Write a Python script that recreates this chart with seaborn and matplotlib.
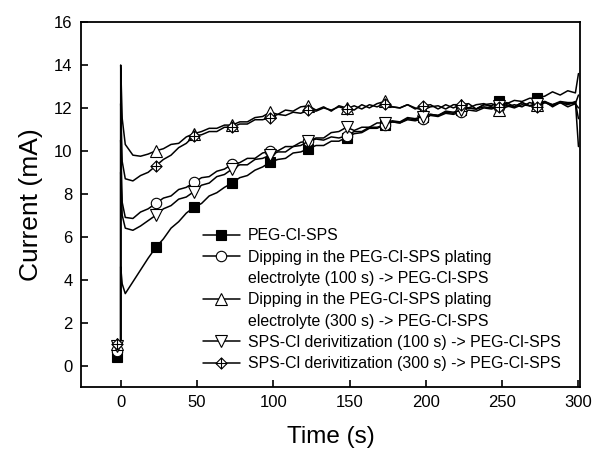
import matplotlib
matplotlib.use("Agg")
import matplotlib.pyplot as plt
import seaborn as sns
from matplotlib.path import Path
from matplotlib.lines import Line2D

# czas (s): punkt startowy, skok przy t=0, potem co 5 s, koncowy skok przy t=300
time_s = [-2.5, 0, 0, 1,
          3, 8, 13, 18, 23, 28, 33, 38, 43, 48, 53, 58, 63, 68, 73, 78, 83, 88, 93, 98,
          103, 108, 113, 118, 123, 128, 133, 138, 143, 148, 153, 158, 163, 168, 173, 178,
          183, 188, 193, 198, 203, 208, 213, 218, 223, 228, 233, 238, 243, 248, 253, 258,
          263, 268, 273, 278, 283, 288, 293, 298, 300]

peg_cl_sps = [0.4, 0.4, 4.6, 3.8,
              3.35, 3.9, 4.45, 5.0, 5.5, 5.9, 6.4, 6.7, 7.1, 7.37, 7.55, 7.9, 8.05, 8.3, 8.5, 8.75,
              8.85, 9.1, 9.25, 9.47, 9.6, 9.65, 9.9, 9.95, 10.1, 10.25, 10.25, 10.45, 10.45, 10.62,
              10.8, 10.85, 11.05, 11.05, 11.2, 11.35, 11.3, 11.5, 11.45, 11.6, 11.7, 11.65, 11.8,
              11.75, 11.9, 12.0, 11.95, 12.15, 12.1, 12.3, 12.2, 12.35, 12.3, 12.45, 12.45, 12.55,
              12.75, 12.6, 12.8, 12.7, 13.6]

dip_100 = [0.7, 0.7, 10.5, 7.6,
           6.9, 6.85, 7.15, 7.3, 7.55, 7.8, 7.9, 8.2, 8.3, 8.53, 8.75, 8.8, 9.05, 9.15, 9.38, 9.45,
           9.65, 9.65, 9.9, 9.98, 10.0, 10.2, 10.2, 10.4, 10.45, 10.55, 10.5, 10.65, 10.6, 10.7,
           10.9, 10.9, 11.1, 11.1, 11.2, 11.35, 11.3, 11.45, 11.4, 11.5, 11.65, 11.6, 11.75, 11.7,
           11.8, 11.9, 11.85, 12.0, 11.95, 12.05, 12.1, 12.0, 12.15, 12.1, 12.15, 12.25, 12.15,
           12.25, 12.2, 12.2, 12.0]

dip_300 = [1.0, 1.0, 14.0, 11.5,
           10.3, 9.8, 9.75, 9.85, 10.0, 10.1, 10.3, 10.35, 10.65, 10.8, 10.9, 11.05, 11.05, 11.2,
           11.2, 11.35, 11.35, 11.55, 11.6, 11.8, 11.7, 11.9, 11.85, 12.05, 12.1, 11.9, 12.05,
           11.85, 12.1, 12.0, 11.9, 12.15, 12.0, 12.2, 12.3, 12.05, 12.0, 12.15, 12.0, 11.9,
           12.05, 12.1, 11.95, 12.15, 12.15, 12.0, 12.15, 12.2, 12.05, 11.9, 12.05, 12.15,
           12.05, 12.25, 12.15, 12.3, 12.05, 12.25, 12.15, 12.3, 10.2]

sps_100 = [0.9, 0.9, 9.0, 7.0,
           6.4, 6.3, 6.5, 6.75, 7.0, 7.3, 7.45, 7.75, 7.85, 8.1, 8.4, 8.5, 8.8, 8.9, 9.15, 9.35,
           9.35, 9.6, 9.65, 9.8, 9.95, 9.95, 10.2, 10.25, 10.45, 10.6, 10.6, 10.85, 10.9, 11.1,
           10.95, 11.1, 11.1, 11.3, 11.3, 11.4, 11.35, 11.55, 11.5, 11.6, 11.7, 11.65, 11.85,
           11.8, 11.9, 12.0, 11.95, 12.05, 12.0, 12.1, 12.15, 12.05, 12.25, 12.1, 12.2, 12.3,
           12.15, 12.3, 12.25, 12.25, 11.5]

sps_300 = [1.0, 1.0, 12.2, 9.5,
           8.7, 8.6, 8.85, 9.0, 9.3, 9.6, 9.8, 10.15, 10.35, 10.7, 10.75, 10.9, 10.9, 11.1, 11.1,
           11.25, 11.25, 11.45, 11.45, 11.55, 11.7, 11.65, 11.8, 11.75, 11.9, 11.85, 12.0, 11.9,
           12.05, 11.95, 12.1, 11.95, 12.15, 12.05, 12.2, 12.05, 12.0, 12.15, 11.95, 12.1, 12.15,
           11.95, 12.15, 12.0, 12.15, 12.2, 11.95, 12.15, 12.2, 12.05, 12.25, 12.05, 12.25, 12.1,
           12.05, 12.25, 12.1, 12.25, 12.05, 12.2, 12.6]

series_labels = ['PEG-Cl-SPS',
                 'Dipping in the PEG-Cl-SPS plating',
                 'Dipping in the PEG-Cl-SPS plating',
                 'SPS-Cl derivitization (100 s) -> PEG-Cl-SPS',
                 'SPS-Cl derivitization (300 s) -> PEG-Cl-SPS']
second_lines = {1: 'electrolyte (100 s) -> PEG-Cl-SPS',
                2: 'electrolyte (300 s) -> PEG-Cl-SPS'}

x_ticks = [0, 50, 100, 150, 200, 250, 300]
y_ticks = [0, 2, 4, 6, 8, 10, 12, 14, 16]

# romb z krzyzykiem w srodku
diamond_plus = Path(
    [(0, 1), (1, 0), (0, -1), (-1, 0), (0, 1), (0, 1), (0, -1), (-1, 0), (1, 0)],
    [Path.MOVETO, Path.LINETO, Path.LINETO, Path.LINETO, Path.CLOSEPOLY,
     Path.MOVETO, Path.LINETO, Path.MOVETO, Path.LINETO])

styles = [
    dict(marker='s', mfc='black', ms=6.5),
    dict(marker='o', mfc='white', ms=7.5),
    dict(marker='^', mfc='white', ms=8),
    dict(marker='v', mfc='white', ms=8),
    dict(marker=diamond_plus, mfc='white', ms=8),
]

sns.set_theme(style="ticks")
plt.rcParams['font.family'] = ['Liberation Sans', 'DejaVu Sans']
plt.rcParams.update({'text.color': 'black', 'axes.labelcolor': 'black',
                     'xtick.color': 'black', 'ytick.color': 'black'})

fig = plt.figure(figsize=(5.97, 4.5), dpi=100)
ax = fig.add_axes([0.1357, 0.14, 0.8358, 0.811])

# markery w t=-2.5 i co 25 s od t=23
mark_idx = [0] + list(range(8, 59, 5))

all_series = [peg_cl_sps, dip_100, dip_300, sps_100, sps_300]
for i, values in enumerate(all_series):
    sns.lineplot(x=time_s, y=values, ax=ax, sort=False, estimator=None,
                 color='black', linewidth=1.1, label=series_labels[i],
                 markevery=mark_idx, mec='black', mew=0.8, **styles[i])

ax.set_xlim(-26, 301)
ax.set_ylim(-1, 16)
ax.set_xticks(x_ticks)
ax.set_yticks(y_ticks)
ax.tick_params(direction='in', length=5, width=1.2, labelsize=12, pad=6,
               top=False, right=False, colors='black')
for sp in ax.spines.values():
    sp.set_linewidth(1.3)
    sp.set_color('black')

ax.set_xlabel('Time (s)', fontsize=17.5, labelpad=11)
ax.set_ylabel('Current (mA)', fontsize=19, labelpad=8)

# legenda: druga linia opisu jako osobny wiersz bez symbolu
handles, labels = ax.get_legend_handles_labels()
new_h, new_l = [], []
for i, (h, l) in enumerate(zip(handles, labels)):
    new_h.append(h)
    new_l.append(l)
    if i in second_lines:
        new_h.append(Line2D([], [], color='none'))
        new_l.append(second_lines[i])
ax.legend(new_h, new_l, loc='lower left', bbox_to_anchor=(0.245, 0.043),
          frameon=False, fontsize=11.4, handlelength=2.3, handletextpad=0.5,
          labelspacing=0.4, borderpad=0, borderaxespad=0)

fig.savefig('out.png', dpi=100)
